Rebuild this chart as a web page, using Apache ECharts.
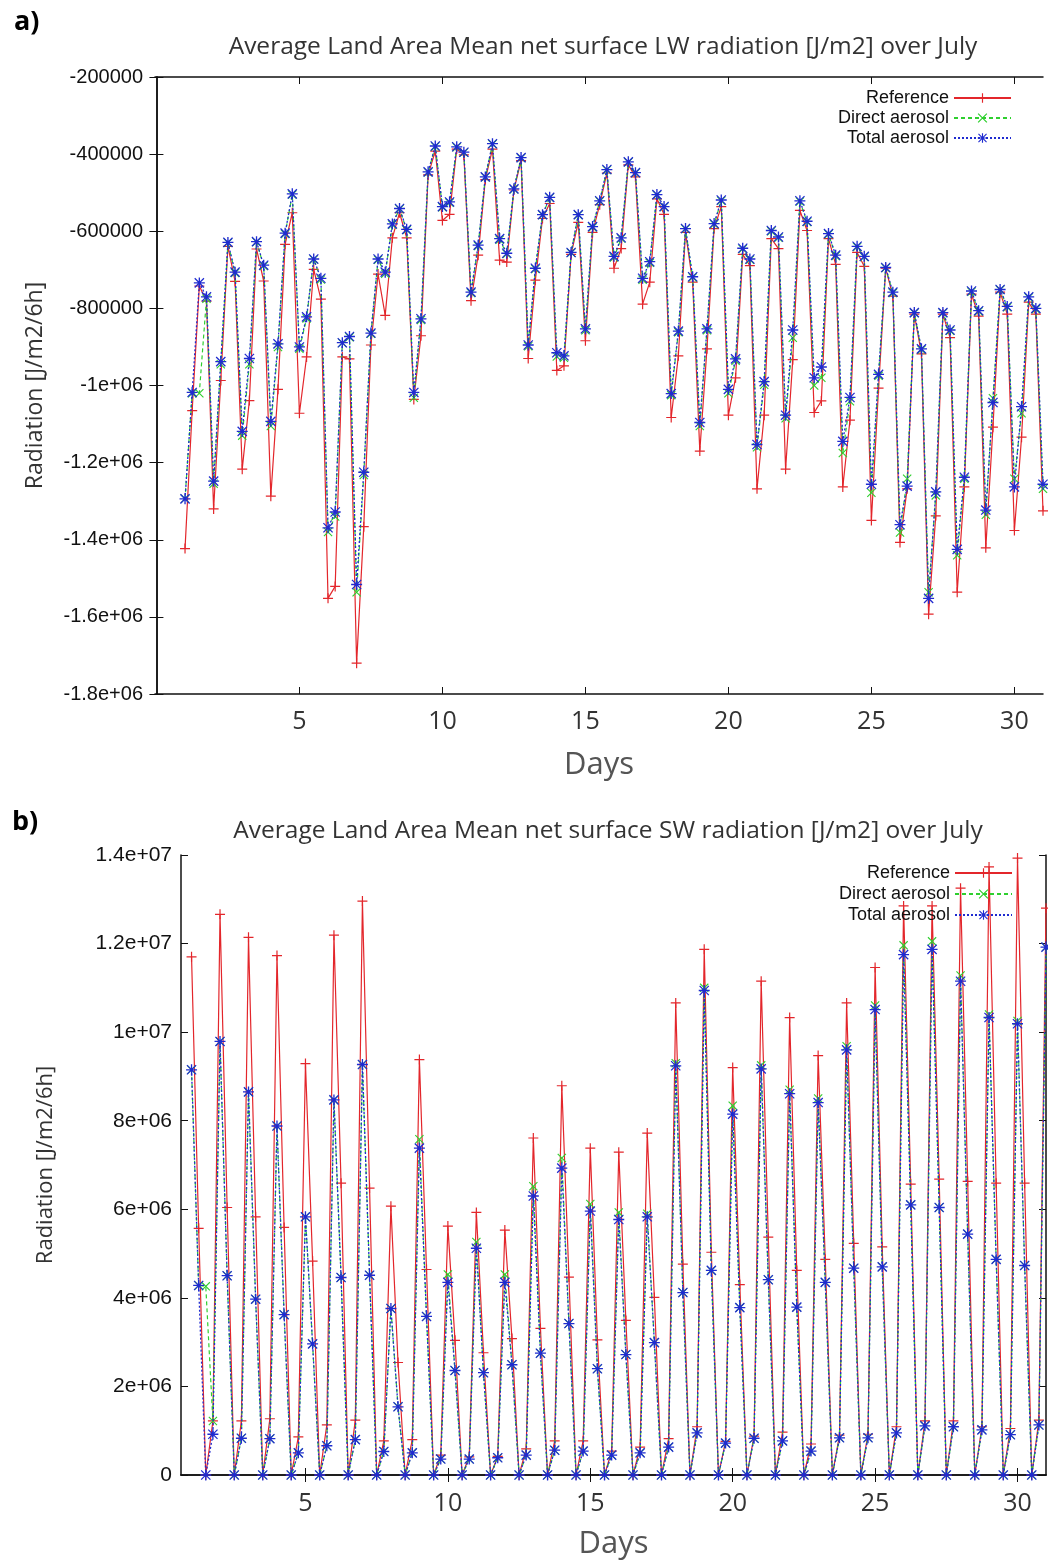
<!DOCTYPE html>
<html>
<head>
<meta charset="utf-8">
<script src="https://cdn.jsdelivr.net/npm/echarts@6/dist/echarts.min.js"></script>
<style>
    body { margin: 0; background: #fff; }
    #biao-a, #biao-b { width: 1048px; height: 782px; }
</style>
</head>
<body>
<div id="biao-a"></div>
<div id="biao-b"></div>
<script>
// 6-hourly values, day 1.00 .. 31.00 (4 per day)
var lwRef = [
    -1423000, -1065000, -742000, -781000,
    -1320000, -987000, -639000, -730000,
    -1217000, -1039000, -646000, -729000,
    -1287000, -1010000, -634000, -552000,
    -1072000, -926000, -699000, -776000,
    -1552000, -1521000, -926000, -931000,
    -1720000, -1366000, -895000, -711000,
    -818000, -617000, -552000, -617000,
    -1036000, -871000, -454000, -392000,
    -572000, -556000, -387000, -402000,
    -780000, -662000, -466000, -387000,
    -675000, -680000, -493000, -417000,
    -930000, -727000, -567000, -528000,
    -961000, -949000, -660000, -577000,
    -884000, -603000, -531000, -449000,
    -696000, -645000, -428000, -459000,
    -789000, -732000, -516000, -556000,
    -1083000, -923000, -603000, -732000,
    -1170000, -905000, -593000, -536000,
    -1077000, -980000, -660000, -689000,
    -1268000, -1077000, -619000, -645000,
    -1217000, -933000, -546000, -598000,
    -1070000, -1040000, -619000, -686000,
    -1263000, -1090000, -655000, -691000,
    -1350000, -1007000, -696000, -768000,
    -1407000, -1268000, -815000, -918000,
    -1593000, -1338000, -815000, -876000,
    -1536000, -1263000, -763000, -820000,
    -1421000, -1108000, -758000, -815000,
    -1376000, -1134000, -784000, -815000,
    -1325000
];
var lwDirect = [
    -1294000, -1020000, -1020000, -775000,
    -1255000, -945000, -630000, -708000,
    -1130000, -945000, -628000, -690000,
    -1105000, -900000, -607000, -505000,
    -905000, -826000, -673000, -725000,
    -1380000, -1340000, -890000, -875000,
    -1536000, -1232000, -866000, -674000,
    -710000, -583000, -542000, -597000,
    -1032000, -830000, -447000, -380000,
    -538000, -526000, -382000, -396000,
    -760000, -638000, -460000, -374000,
    -622000, -659000, -491000, -410000,
    -898000, -698000, -558000, -513000,
    -925000, -928000, -656000, -558000,
    -857000, -590000, -522000, -441000,
    -668000, -619000, -421000, -449000,
    -726000, -682000, -506000, -537000,
    -1025000, -862000, -594000, -720000,
    -1105000, -857000, -582000, -521000,
    -1020000, -936000, -646000, -674000,
    -1160000, -998000, -600000, -617000,
    -1085000, -876000, -523000, -576000,
    -1000000, -980000, -608000, -664000,
    -1175000, -1041000, -641000, -667000,
    -1278000, -975000, -695000, -760000,
    -1381000, -1242000, -812000, -907000,
    -1536000, -1285000, -812000, -858000,
    -1440000, -1242000, -757000, -808000,
    -1335000, -1033000, -752000, -797000,
    -1242000, -1072000, -772000, -802000,
    -1268000
];
var lwTotal = [
    -1294000, -1018000, -734000, -770000,
    -1248000, -938000, -629000, -706000,
    -1119000, -930000, -627000, -688000,
    -1093000, -892000, -605000, -503000,
    -900000, -822000, -672000, -722000,
    -1369000, -1328000, -889000, -873000,
    -1516000, -1225000, -864000, -672000,
    -706000, -581000, -541000, -595000,
    -1018000, -827000, -446000, -379000,
    -536000, -524000, -381000, -395000,
    -758000, -636000, -459000, -373000,
    -619000, -657000, -490000, -409000,
    -895000, -696000, -557000, -512000,
    -915000, -923000, -655000, -557000,
    -853000, -588000, -521000, -440000,
    -665000, -617000, -420000, -448000,
    -722000, -679000, -505000, -536000,
    -1021000, -859000, -593000, -718000,
    -1096000, -853000, -580000, -519000,
    -1010000, -931000, -644000, -672000,
    -1153000, -990000, -598000, -615000,
    -1077000, -856000, -521000, -574000,
    -980000, -952000, -606000, -662000,
    -1145000, -1031000, -639000, -665000,
    -1256000, -971000, -694000, -758000,
    -1361000, -1261000, -811000, -905000,
    -1552000, -1276000, -811000, -856000,
    -1425000, -1238000, -755000, -806000,
    -1323000, -1044000, -751000, -795000,
    -1263000, -1055000, -770000, -800000,
    -1256000
];

var swRef = [
    11700000, 5570000, 0, 1220000,
    12660000, 6040000, 0, 1220000,
    12140000, 5830000, 0, 1270000,
    11730000, 5590000, 0, 860000,
    9290000, 4830000, 0, 1130000,
    12190000, 6590000, 0, 1240000,
    12960000, 6480000, 0, 770000,
    6070000, 2540000, 0, 800000,
    9380000, 4640000, 0, 450000,
    5620000, 3040000, 0, 410000,
    5930000, 2760000, 0, 420000,
    5530000, 3080000, 0, 590000,
    7610000, 3310000, 0, 770000,
    8790000, 4470000, 0, 770000,
    7380000, 3050000, 0, 540000,
    7290000, 3490000, 0, 630000,
    7720000, 4010000, 0, 820000,
    10660000, 4760000, 0, 1090000,
    11870000, 5030000, 0, 760000,
    9200000, 4300000, 0, 880000,
    11150000, 5370000, 0, 970000,
    10330000, 4620000, 0, 700000,
    9470000, 4870000, 0, 900000,
    10660000, 5230000, 0, 920000,
    11460000, 5150000, 0, 1090000,
    12850000, 6570000, 0, 1220000,
    12850000, 6680000, 0, 1220000,
    13250000, 6630000, 0, 1090000,
    13730000, 6590000, 0, 1050000,
    13930000, 6590000, 0, 1240000,
    12800000
];
var swDirect = [
    9150000, 4280000, 4260000, 1220000,
    9790000, 4500000, 0, 830000,
    8650000, 3970000, 0, 820000,
    7880000, 3620000, 0, 500000,
    5830000, 2960000, 0, 660000,
    8470000, 4460000, 0, 800000,
    9270000, 4510000, 0, 530000,
    3760000, 1540000, 0, 500000,
    7580000, 3580000, 0, 360000,
    4530000, 2360000, 0, 360000,
    5260000, 2310000, 0, 390000,
    4530000, 2490000, 0, 450000,
    6520000, 2750000, 0, 560000,
    7160000, 3420000, 0, 540000,
    6120000, 2400000, 0, 450000,
    5930000, 2720000, 0, 500000,
    5900000, 2990000, 0, 630000,
    9300000, 4120000, 0, 950000,
    11000000, 4620000, 0, 720000,
    8340000, 3780000, 0, 830000,
    9250000, 4410000, 0, 770000,
    8700000, 3790000, 0, 540000,
    8500000, 4350000, 0, 840000,
    9680000, 4670000, 0, 840000,
    10600000, 4700000, 0, 950000,
    11960000, 6100000, 0, 1110000,
    12050000, 6040000, 0, 1090000,
    11280000, 5440000, 0, 1020000,
    10400000, 4870000, 0, 910000,
    10250000, 4730000, 0, 1130000,
    11920000
];
var swTotal = [
    9150000, 4280000, 0, 920000,
    9790000, 4500000, 0, 830000,
    8650000, 3970000, 0, 820000,
    7880000, 3620000, 0, 500000,
    5830000, 2960000, 0, 660000,
    8470000, 4460000, 0, 800000,
    9270000, 4510000, 0, 530000,
    3760000, 1540000, 0, 500000,
    7380000, 3580000, 0, 360000,
    4350000, 2360000, 0, 360000,
    5120000, 2310000, 0, 390000,
    4350000, 2490000, 0, 450000,
    6300000, 2750000, 0, 560000,
    6930000, 3420000, 0, 540000,
    5960000, 2400000, 0, 450000,
    5770000, 2720000, 0, 500000,
    5830000, 2990000, 0, 630000,
    9240000, 4120000, 0, 950000,
    10940000, 4620000, 0, 720000,
    8150000, 3780000, 0, 830000,
    9170000, 4410000, 0, 770000,
    8610000, 3790000, 0, 540000,
    8410000, 4350000, 0, 840000,
    9600000, 4670000, 0, 840000,
    10510000, 4700000, 0, 950000,
    11750000, 6100000, 0, 1110000,
    11870000, 6040000, 0, 1090000,
    11150000, 5440000, 0, 1020000,
    10330000, 4870000, 0, 910000,
    10190000, 4730000, 0, 1130000,
    11920000
];

var dayTicks = [5, 10, 15, 20, 25, 30];
var seriesNames = ['Reference', 'Direct aerosol', 'Total aerosol'];

// gnuplot-like markers
var plusPath = 'path://M4.4,0h1.2v10h-1.2z M0,4.4h10v1.2h-10z';
var crossPath = 'path://M1.2,0.4L9.6,8.8L8.8,9.6L0.4,1.2z M8.8,0.4L9.6,1.2L1.2,9.6L0.4,8.8z';
var starPath = 'path://M4.4,0h1.2v10h-1.2z M0,4.4h10v1.2h-10z M1.2,0.4L9.6,8.8L8.8,9.6L0.4,1.2z M8.8,0.4L9.6,1.2L1.2,9.6L0.4,8.8z';

var red = '#e3262b', green = '#2ecf2e', blue = '#1f2bd0';
var tickFont = 'Liberation Sans, Arial, sans-serif';
var humanFont = 'Open Sans, Noto Sans, sans-serif';

function sixHourly(vals) {
    return vals.map(function (v, i) { return [1 + i * 0.25, v]; });
}

function gpFmt(v) {
    if (v === 0) return '0';
    var a = Math.abs(v);
    if (a < 1e6) return String(v);
    var e = Math.floor(Math.log10(a) + 1e-9);
    var m = Math.round(v / Math.pow(10, e) * 10) / 10;
    return m + 'e+' + (e < 10 ? '0' : '') + e;
}

function lineSeries(name, vals, color, symbol, size, type, width, z) {
    return {
        name: name,
        type: 'line',
        data: sixHourly(vals),
        symbol: symbol,
        symbolSize: size,
        showAllSymbol: true,
        z: z,
        itemStyle: { color: color },
        lineStyle: { color: color, width: width, type: type },
        emphasis: { disabled: true },
        animation: false
    };
}

function buildOption(cfg) {
    var axisLine = { show: true, lineStyle: { color: '#111', width: 1.5 } };
    return {
        backgroundColor: '#fff',
        animation: false,
        title: [{
            text: cfg.tag,
            left: cfg.tagX, top: cfg.tagY,
            textStyle: { fontFamily: humanFont, fontSize: 27, fontWeight: 'bold', color: '#000' }
        }, {
            text: cfg.title,
            left: cfg.titleX, top: cfg.titleY, textAlign: 'center',
            textStyle: { fontFamily: humanFont, fontSize: 24.5, fontWeight: 'normal', color: '#333' }
        }],
        legend: {
            data: seriesNames,
            orient: 'vertical',
            right: cfg.legendRight, top: cfg.legendTop,
            align: 'right',
            itemWidth: 57, itemHeight: 12, itemGap: cfg.legendGap,
            textStyle: { fontFamily: tickFont, fontSize: 18, color: '#111' },
            selectedMode: false
        },
        grid: cfg.grid,
        xAxis: [{
            type: 'value', min: cfg.xMin, max: 31,
            axisLine: axisLine,
            axisTick: { inside: true, length: 7, customValues: dayTicks, lineStyle: { color: '#111' } },
            axisLabel: { customValues: dayTicks, margin: cfg.xLabelMargin,
                fontFamily: humanFont, fontSize: 25, color: '#333' },
            splitLine: { show: false },
            name: 'Days', nameLocation: 'middle', nameGap: cfg.xNameGap,
            nameTextStyle: { fontFamily: humanFont, fontSize: 31, color: '#555' }
        }, {
            type: 'value', min: cfg.xMin, max: 31, position: 'top',
            axisLine: axisLine,
            axisTick: { inside: true, length: 7, customValues: dayTicks, lineStyle: { color: '#111' } },
            axisLabel: { show: false },
            splitLine: { show: false }
        }],
        yAxis: [{
            type: 'value', min: cfg.yMin, max: cfg.yMax, interval: cfg.yStep,
            axisLine: axisLine,
            axisTick: { inside: true, length: 7, lineStyle: { color: '#111' } },
            axisLabel: { formatter: gpFmt, margin: cfg.yLabelMargin,
                fontFamily: tickFont, fontSize: cfg.yLabelSize, color: '#111' },
            splitLine: { show: false },
            name: 'Radiation [J/m2/6h]', nameLocation: 'middle', nameGap: cfg.yNameGap,
            nameTextStyle: { fontFamily: humanFont, fontSize: cfg.yNameSize, color: '#333' }
        }, {
            type: 'value', min: cfg.yMin, max: cfg.yMax, interval: cfg.yStep, position: 'right',
            axisLine: axisLine,
            axisTick: { inside: true, length: 7, lineStyle: { color: '#111' } },
            axisLabel: { show: false },
            splitLine: { show: false }
        }],
        series: [
            lineSeries('Reference', cfg.ref, red, plusPath, 10, 'solid', 1.2, 2),
            lineSeries('Direct aerosol', cfg.direct, green, crossPath, 9, [4, 3], 1.2, 3),
            lineSeries('Total aerosol', cfg.total, blue, starPath, 11, [2, 2], 1.3, 4)
        ]
    };
}

var chartA = echarts.init(document.getElementById('biao-a'));
chartA.setOption(buildOption({
    tag: 'a)', tagX: 9, tagY: 4,
    title: 'Average Land Area Mean net surface LW radiation [J/m2] over July',
    titleX: 598, titleY: 30,
    legendRight: 31, legendTop: 84, legendGap: 2,
    grid: { left: 155, top: 77, width: 888, height: 617, outerBoundsMode: 'none' },
    xMin: -0.05, xLabelMargin: 15, xNameGap: 56,
    yMin: -1800000, yMax: -200000, yStep: 200000,
    yLabelMargin: 12, yLabelSize: 20, yNameGap: 108, yNameSize: 23,
    ref: lwRef, direct: lwDirect, total: lwTotal
}));

var chartB = echarts.init(document.getElementById('biao-b'));
chartB.setOption(buildOption({
    tag: 'b)', tagX: 7, tagY: 22,
    title: 'Average Land Area Mean net surface SW radiation [J/m2] over July',
    titleX: 603, titleY: 32,
    legendRight: 30, legendTop: 77, legendGap: 3,
    grid: { left: 181, top: 73, width: 865, height: 620, outerBoundsMode: 'none' },
    xMin: 0.63, xLabelMargin: 16, xNameGap: 54,
    yMin: 0, yMax: 14000000, yStep: 2000000,
    yLabelMargin: 9, yLabelSize: 21, yNameGap: 124, yNameSize: 22,
    ref: swRef, direct: swDirect, total: swTotal
}));
</script>
</body>
</html>
